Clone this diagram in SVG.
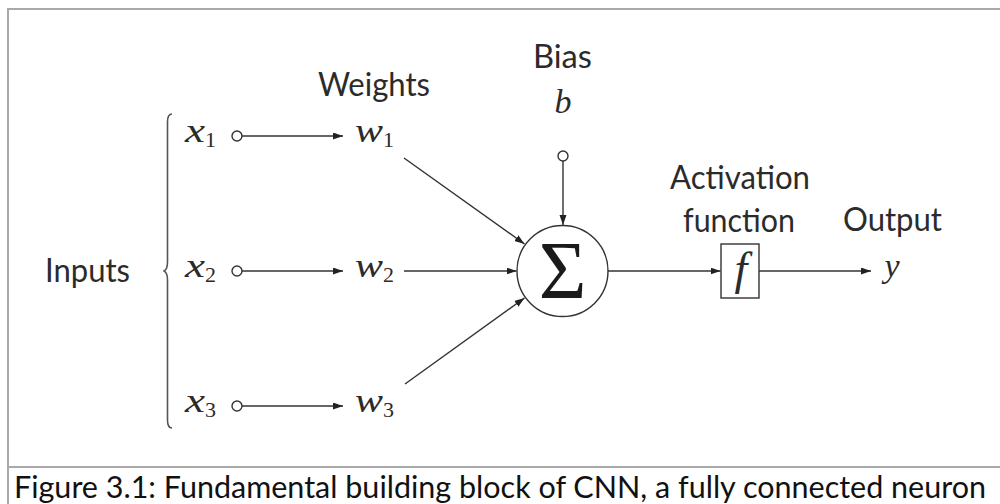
<svg xmlns="http://www.w3.org/2000/svg" width="1000" height="504" viewBox="0 0 1000 504">
  <style>
    .frame { stroke: #a9a9a9; stroke-width: 2; fill: none; }
    .ln { stroke: #333; stroke-width: 1.4; fill: none; }
    .lbl { font-family: Lato, "Liberation Sans", sans-serif; font-size: 33px; fill: #2b2b2b; }
    .mi { font-family: "Liberation Serif", serif; font-style: italic; font-size: 34px; fill: #2b2b2b; }
    .sub { font-family: "Liberation Serif", serif; font-size: 22px; fill: #2b2b2b; }
    .cap { font-family: Lato, "Liberation Sans", sans-serif; font-size: 30px; fill: #111; }
  </style>
  <defs>
    <marker id="arr" markerUnits="userSpaceOnUse" markerWidth="11" markerHeight="8" refX="10" refY="3.5" orient="auto">
      <path d="M0,0 L10,3.5 L0,7 Z" fill="#222"/>
    </marker>
  </defs>

  <rect width="1000" height="504" fill="#fff"/>

  <!-- figure frame and caption rule -->
  <g id="frame">
    <path class="frame" d="M8,504 L8,9 L1000,9"/>
    <path class="frame" d="M8,467 L1000,467"/>
  </g>

  <!-- connectors -->
  <g id="connectors">
    <line class="ln" x1="242" y1="136" x2="343" y2="136" marker-end="url(#arr)"/>
    <line class="ln" x1="242" y1="271" x2="343" y2="271" marker-end="url(#arr)"/>
    <line class="ln" x1="242" y1="406" x2="343" y2="406" marker-end="url(#arr)"/>
    <line class="ln" x1="404" y1="158" x2="524.5" y2="244" marker-end="url(#arr)"/>
    <line class="ln" x1="404" y1="271" x2="516.5" y2="271" marker-end="url(#arr)"/>
    <line class="ln" x1="405" y1="384" x2="524.5" y2="298" marker-end="url(#arr)"/>
    <line class="ln" x1="563" y1="161" x2="563" y2="225" marker-end="url(#arr)"/>
    <line class="ln" x1="608" y1="271" x2="720.5" y2="271" marker-end="url(#arr)"/>
    <line class="ln" x1="759" y1="271" x2="871" y2="271" marker-end="url(#arr)"/>
  </g>

  <!-- inputs -->
  <g id="inputs">
    <text class="lbl" x="45" y="282" textLength="85" lengthAdjust="spacingAndGlyphs">Inputs</text>
    <path d="M172,114 Q167.5,114 167.5,122 L167.5,262 Q167.5,270 163.5,271 Q167.5,272 167.5,280 L167.5,420 Q167.5,428 172,428" stroke="#555" stroke-width="1.6" fill="none"/>
  </g>
  <g id="x1">
    <text class="mi" x="185" y="142" textLength="20" lengthAdjust="spacingAndGlyphs">x</text>
    <text class="sub" x="205" y="147">1</text>
    <circle class="ln" cx="237" cy="136" r="5"/>
  </g>
  <g id="x2">
    <text class="mi" x="185" y="277" textLength="20" lengthAdjust="spacingAndGlyphs">x</text>
    <text class="sub" x="205" y="282">2</text>
    <circle class="ln" cx="237" cy="271" r="5"/>
  </g>
  <g id="x3">
    <text class="mi" x="185" y="412" textLength="20" lengthAdjust="spacingAndGlyphs">x</text>
    <text class="sub" x="205" y="417">3</text>
    <circle class="ln" cx="237" cy="406" r="5"/>
  </g>

  <!-- weights -->
  <g id="weights">
    <text class="lbl" x="318" y="96" textLength="112" lengthAdjust="spacingAndGlyphs">Weights</text>
  </g>
  <g id="w1">
    <text class="mi" x="355" y="142" textLength="28" lengthAdjust="spacingAndGlyphs">w</text>
    <text class="sub" x="383" y="147">1</text>
  </g>
  <g id="w2">
    <text class="mi" x="355" y="277" textLength="28" lengthAdjust="spacingAndGlyphs">w</text>
    <text class="sub" x="383" y="282">2</text>
  </g>
  <g id="w3">
    <text class="mi" x="355" y="412" textLength="28" lengthAdjust="spacingAndGlyphs">w</text>
    <text class="sub" x="383" y="417">3</text>
  </g>

  <!-- bias -->
  <g id="bias">
    <text class="lbl" x="533" y="68" textLength="59" lengthAdjust="spacingAndGlyphs">Bias</text>
    <text class="mi" x="563" y="113" text-anchor="middle">b</text>
    <circle class="ln" cx="563" cy="156" r="5"/>
  </g>

  <!-- summation -->
  <g id="sum">
    <circle class="ln" cx="562.5" cy="271" r="45.5"/>
    <text x="562.5" y="298" text-anchor="middle" font-family="'Liberation Serif', serif" font-size="82" fill="#1a1a1a">Σ</text>
  </g>

  <!-- activation -->
  <g id="activation">
    <text class="lbl" x="670" y="189" textLength="140" lengthAdjust="spacingAndGlyphs">Activation</text>
    <text class="lbl" x="683" y="232" textLength="112" lengthAdjust="spacingAndGlyphs">function</text>
    <rect class="ln" x="721" y="244" width="38" height="54"/>
    <text class="mi" x="741" y="284" text-anchor="middle" style="font-size:46px">f</text>
  </g>

  <!-- output -->
  <g id="output">
    <text class="lbl" x="843" y="231" textLength="99" lengthAdjust="spacingAndGlyphs">Output</text>
    <text class="mi" x="892" y="277" text-anchor="middle">y</text>
  </g>

  <!-- caption -->
  <g id="caption">
    <text class="cap" x="14" y="498" textLength="972" lengthAdjust="spacingAndGlyphs">Figure 3.1: Fundamental building block of CNN, a fully connected neuron</text>
  </g>
</svg>
